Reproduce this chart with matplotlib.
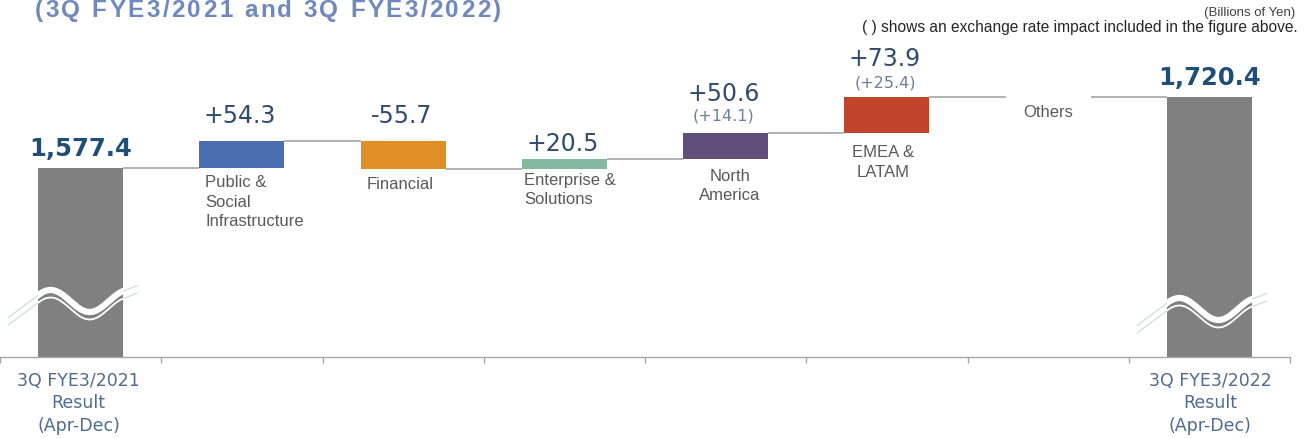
import matplotlib
matplotlib.use("Agg")
import matplotlib.pyplot as plt
import numpy as np

# ---------------- data ----------------
categories = ["3Q FYE3/2021\nResult\n(Apr-Dec)", "Public &\nSocial\nInfrastructure", "Financial",
              "Enterprise &\nSolutions", "North\nAmerica", "EMEA &\nLATAM", "Others",
              "3Q FYE3/2022\nResult\n(Apr-Dec)"]
start_total = 1577.4
end_total = 1720.4
changes = [54.3, -55.7, 20.5, 50.6, 73.9, -0.6]
fx_impact = [None, None, None, 14.1, 25.4, None]
show_change_label = [True, True, True, True, True, False]
title = "(3Q FYE3/2021 and 3Q FYE3/2022)"
unit_note = "(Billions of Yen)"
fx_note = "( ) shows an exchange rate impact included in the figure above."

# ---------------- style ----------------
W, H = 1311, 438
AX_BOTTOM_PX, AX_TOP_PX = 357, 40
Y_MIN = 1200.0
PX_PER_UNIT = 0.5
PX_PER_CAT = 1290 / 8
bar_w = 85 / PX_PER_CAT
total_color = "#808080"
change_colors = ["#4a6eb0", "#e08f26", "#86b8a0", "#5f4f7a", "#c0432a", "#ececec"]
conn_color = "#a6a6a6"
axis_color = "#a6a6a6"
value_color = "#1f4e79"
change_value_color = "#2f4b6e"
fx_color = "#6b7f9e"
cat_color = "#595959"
total_cat_color = "#4f6b8e"
# label offsets (pixels above bar top)
change_label_off = [18, 18, 8, 32, 30, 0]
fx_label_off = [0, 0, 0, 13, 9.5, 0]
# category label placement: (ha, dx px relative to anchor, dy px below bar bottom)
cat_style = [("center", -2, 15), ("left", 6, 7), ("left", 6, 8), ("left", 2, 3.5),
             ("center", 4, 10), ("center", -4, 12), ("center", 0, 8), ("center", 1, 15)]

PT = 72 / 100  # points per pixel

fig = plt.figure(figsize=(W / 100, H / 100), dpi=100)
ax = fig.add_axes([0, (H - AX_BOTTOM_PX) / H, 1290 / W, (AX_BOTTOM_PX - AX_TOP_PX) / H])
ax.set_xlim(-0.5, 7.5)
ax.set_ylim(Y_MIN, Y_MIN + (AX_BOTTOM_PX - AX_TOP_PX) / PX_PER_UNIT)
for s in ["left", "right", "top"]:
    ax.spines[s].set_visible(False)
ax.spines["bottom"].set_color(axis_color)
ax.spines["bottom"].set_linewidth(1.0)
ax.set_yticks([])
ax.set_xticks(np.arange(-0.5, 8, 1.0))
ax.set_xticklabels([])
ax.tick_params(axis="x", direction="out", length=6 * PT, color=axis_color, width=1.0)

# cumulative levels
cum = [start_total]
for c in changes:
    cum.append(cum[-1] + c)

# total bars
totals = [(0, start_total), (7, end_total)]
total_bars = []
for x, v in totals:
    b = ax.bar(x, v - Y_MIN, bottom=Y_MIN, width=bar_w, color=total_color, zorder=2)
    total_bars.append(b[0])
    ax.annotate(f"{v:,.1f}", xy=(x, v), xytext=(0, 12 * PT), textcoords="offset points",
                ha="center", va="baseline", fontsize=17.5, fontweight="bold",
                family="DejaVu Sans", color=value_color)

# change bars
for i, c in enumerate(changes):
    x = i + 1
    ax.bar(x, c, bottom=cum[i], width=bar_w, color=change_colors[i], zorder=2)
    top = max(cum[i], cum[i + 1])
    if show_change_label[i]:
        ax.annotate(f"{c:+.1f}", xy=(x, top), xytext=(-2 * PT, change_label_off[i] * PT),
                    textcoords="offset points", ha="center", va="baseline", fontsize=17,
                    family="DejaVu Sans", color=change_value_color)
    if fx_impact[i] is not None:
        ax.annotate(f"({fx_impact[i]:+.1f})", xy=(x, top), xytext=(-2 * PT, fx_label_off[i] * PT),
                    textcoords="offset points", ha="center", va="baseline", fontsize=11.5,
                    family="DejaVu Sans", color=fx_color)

# connectors
for i in range(7):
    ax.plot([i + bar_w / 2, i + 1 - bar_w / 2], [cum[i], cum[i]], color=conn_color,
            lw=1.2, zorder=1, solid_capstyle="butt")

# category labels
for k, lab in enumerate(categories):
    ha, dx, dy = cat_style[k]
    if k == 0 or k == 7:
        anchor_y = Y_MIN
        col, fs, fam, lsp = total_cat_color, 12.5, "DejaVu Sans", 1.32
    else:
        anchor_y = min(cum[k - 1], cum[k])
        col, fs, fam, lsp = cat_color, 12, "Liberation Sans", 1.36
    anchor_x = k - bar_w / 2 if ha == "left" else k
    ax.annotate(lab, xy=(anchor_x, anchor_y), xytext=(dx * PT, -dy * PT),
                textcoords="offset points", ha=ha, va="top", fontsize=fs, family=fam,
                color=col, linespacing=lsp,
                multialignment="left" if ha == "left" else "center", annotation_clip=False)

# break marks on total bars
def px2data(xc, yc_val, xs_px, ys_px):
    return xc + np.asarray(xs_px) / PX_PER_CAT, yc_val - np.asarray(ys_px) / PX_PER_UNIT

break_centers_px = [301, 309]
A, P, XTOP = 11.0, 78.0, -30.0
for (x, v), bar, yc in zip(totals, total_bars, break_centers_px):
    xs = np.linspace(-42.5, 42.5, 200)
    ys = -A * np.cos(2 * np.pi * (xs - XTOP) / P)
    d = lambda t: A * 2 * np.pi / P * np.sin(2 * np.pi * (t - XTOP) / P)
    xl = np.linspace(-72, -42.5, 20)
    yl = ys[0] + d(-42.5) * (xl + 42.5)
    xr = np.linspace(42.5, 57, 10)
    yr = ys[-1] + d(42.5) * (xr - 42.5)
    xfull = np.concatenate([xl, xs, xr])
    yfull = np.concatenate([yl, ys, yr])
    yc_val = Y_MIN + (AX_BOTTOM_PX - yc) / PX_PER_UNIT
    for off, lw_in in [(0, 4.5), (7.5, 1.2)]:
        dx_, dy_ = px2data(x, yc_val, xfull, yfull + off)
        ax.plot(dx_, dy_, color="#d7dde4", lw=1.0, zorder=3)
        ln, = ax.plot(dx_, dy_, color="white", lw=lw_in, zorder=4, solid_capstyle="butt")
        ln.set_clip_path(bar)

# top texts
fig.text(1295 / W, 1 - 16 / H, unit_note, ha="right", va="baseline", fontsize=9.5,
         family="Liberation Sans", color="#404040")
fig.text(1298 / W, 1 - 32 / H, fx_note, ha="right", va="baseline", fontsize=11.2,
         family="Liberation Sans", color="#262626")

# letter-spaced title (cut at top like the reference)
renderer = fig.canvas.get_renderer()
x_px = 35
fs_title = 17.5
gap = 2.4
for ch in title:
    if ch == " ":
        x_px += 0.278 * fs_title / PT + gap
        continue
    t = fig.text(x_px / W, 1 - 17 / H, ch, ha="left", va="baseline", fontsize=fs_title,
                 fontweight="bold", family="Liberation Sans", color="#6f88bd")
    w = t.get_window_extent(renderer).width
    x_px += w + gap

fig.savefig("out.png", dpi=100)
